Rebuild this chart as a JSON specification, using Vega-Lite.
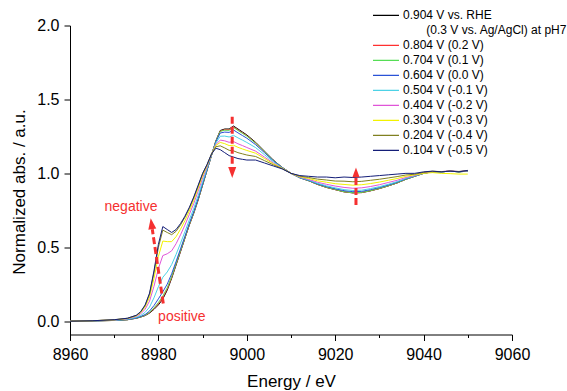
{
  "$schema": "https://vega.github.io/schema/vega-lite/v6.json",
  "width": 442,
  "height": 309,
  "autosize": {"type": "none"},
  "padding": {"left": 70, "top": 25.5, "right": 55, "bottom": 56.5},
  "config": {
    "view": {"stroke": null},
    "font": "Liberation Sans",
    "axis": {
      "grid": false,
      "domainColor": "#000000",
      "tickColor": "#000000",
      "labelColor": "#000000",
      "titleColor": "#000000",
      "labelFont": "Liberation Sans",
      "titleFont": "Liberation Sans",
      "labelFontSize": 16,
      "titleFontSize": 17,
      "titleFontWeight": "normal",
      "labelFlush": false,
      "labelOverlap": false
    }
  },
  "datasets": {
    "xas": [
      {"E": 8960, "a": 0, "b": 0, "c": 0, "d": 0, "e": 0, "f": 0, "g": 0, "h": 0, "i": 0},
      {"E": 8965, "a": 0.002, "b": 0.002, "c": 0.002, "d": 0.002, "e": 0.002, "f": 0.003, "g": 0.003, "h": 0.003, "i": 0.003},
      {"E": 8970, "a": 0.005, "b": 0.005, "c": 0.005, "d": 0.006, "e": 0.007, "f": 0.008, "g": 0.009, "h": 0.010, "i": 0.010},
      {"E": 8973, "a": 0.010, "b": 0.010, "c": 0.010, "d": 0.011, "e": 0.013, "f": 0.016, "g": 0.018, "h": 0.020, "i": 0.020},
      {"E": 8975, "a": 0.020, "b": 0.020, "c": 0.021, "d": 0.022, "e": 0.026, "f": 0.032, "g": 0.036, "h": 0.039, "i": 0.040},
      {"E": 8976, "a": 0.028, "b": 0.029, "c": 0.029, "d": 0.032, "e": 0.039, "f": 0.050, "g": 0.058, "h": 0.063, "i": 0.065},
      {"E": 8977, "a": 0.038, "b": 0.039, "c": 0.041, "d": 0.045, "e": 0.060, "f": 0.081, "g": 0.096, "h": 0.106, "i": 0.110},
      {"E": 8978, "a": 0.055, "b": 0.058, "c": 0.060, "d": 0.069, "e": 0.096, "f": 0.136, "g": 0.163, "h": 0.183, "i": 0.190},
      {"E": 8979, "a": 0.080, "b": 0.085, "c": 0.090, "d": 0.106, "e": 0.158, "f": 0.236, "g": 0.288, "h": 0.327, "i": 0.340},
      {"E": 8980, "a": 0.110, "b": 0.118, "c": 0.126, "d": 0.151, "e": 0.233, "f": 0.356, "g": 0.438, "h": 0.500, "i": 0.520},
      {"E": 8981, "a": 0.150, "b": 0.160, "c": 0.170, "d": 0.199, "e": 0.297, "f": 0.444, "g": 0.542, "h": 0.616, "i": 0.640},
      {"E": 8982, "a": 0.210, "b": 0.218, "c": 0.226, "d": 0.251, "e": 0.333, "f": 0.456, "g": 0.538, "h": 0.600, "i": 0.620},
      {"E": 8983, "a": 0.290, "b": 0.296, "c": 0.302, "d": 0.321, "e": 0.383, "f": 0.476, "g": 0.538, "h": 0.585, "i": 0.600},
      {"E": 8984, "a": 0.380, "b": 0.385, "c": 0.390, "d": 0.404, "e": 0.452, "f": 0.524, "g": 0.572, "h": 0.608, "i": 0.620},
      {"E": 8985, "a": 0.470, "b": 0.474, "c": 0.478, "d": 0.489, "e": 0.527, "f": 0.584, "g": 0.622, "h": 0.651, "i": 0.660},
      {"E": 8986, "a": 0.560, "b": 0.563, "c": 0.566, "d": 0.575, "e": 0.605, "f": 0.650, "g": 0.680, "h": 0.703, "i": 0.710},
      {"E": 8987, "a": 0.650, "b": 0.652, "c": 0.655, "d": 0.662, "e": 0.686, "f": 0.722, "g": 0.746, "h": 0.764, "i": 0.770},
      {"E": 8988, "a": 0.730, "b": 0.732, "c": 0.734, "d": 0.741, "e": 0.763, "f": 0.796, "g": 0.818, "h": 0.835, "i": 0.840},
      {"E": 8989, "a": 0.820, "b": 0.822, "c": 0.824, "d": 0.830, "e": 0.850, "f": 0.880, "g": 0.900, "h": 0.915, "i": 0.920},
      {"E": 8990, "a": 0.920, "b": 0.922, "c": 0.923, "d": 0.928, "e": 0.944, "f": 0.968, "g": 0.984, "h": 0.996, "i": 1.000},
      {"E": 8991, "a": 1.020, "b": 1.021, "c": 1.022, "d": 1.024, "e": 1.032, "f": 1.044, "g": 1.052, "h": 1.058, "i": 1.060},
      {"E": 8992, "a": 1.120, "b": 1.120, "c": 1.120, "d": 1.121, "e": 1.123, "f": 1.126, "g": 1.128, "h": 1.130, "i": 1.130},
      {"E": 8993, "a": 1.220, "b": 1.219, "c": 1.218, "d": 1.214, "e": 1.205, "f": 1.195, "g": 1.189, "h": 1.180, "i": 1.170},
      {"E": 8994, "a": 1.290, "b": 1.286, "c": 1.284, "d": 1.273, "e": 1.251, "f": 1.225, "g": 1.209, "h": 1.186, "i": 1.160},
      {"E": 8995, "a": 1.300, "b": 1.295, "c": 1.292, "d": 1.279, "e": 1.252, "f": 1.220, "g": 1.201, "h": 1.172, "i": 1.140},
      {"E": 8996, "a": 1.300, "b": 1.295, "c": 1.291, "d": 1.277, "e": 1.246, "f": 1.210, "g": 1.188, "h": 1.156, "i": 1.120},
      {"E": 8997, "a": 1.320, "b": 1.314, "c": 1.310, "d": 1.293, "e": 1.257, "f": 1.215, "g": 1.190, "h": 1.152, "i": 1.110},
      {"E": 8998, "a": 1.300, "b": 1.294, "c": 1.290, "d": 1.274, "e": 1.240, "f": 1.200, "g": 1.176, "h": 1.140, "i": 1.100},
      {"E": 8999, "a": 1.280, "b": 1.274, "c": 1.271, "d": 1.256, "e": 1.225, "f": 1.188, "g": 1.165, "h": 1.132, "i": 1.095},
      {"E": 9000, "a": 1.260, "b": 1.255, "c": 1.252, "d": 1.238, "e": 1.209, "f": 1.175, "g": 1.155, "h": 1.124, "i": 1.090},
      {"E": 9002, "a": 1.210, "b": 1.206, "c": 1.204, "d": 1.194, "e": 1.174, "f": 1.150, "g": 1.136, "h": 1.114, "i": 1.090},
      {"E": 9004, "a": 1.150, "b": 1.148, "c": 1.146, "d": 1.140, "e": 1.126, "f": 1.110, "g": 1.100, "h": 1.086, "i": 1.070},
      {"E": 9006, "a": 1.090, "b": 1.089, "c": 1.088, "d": 1.085, "e": 1.078, "f": 1.070, "g": 1.065, "h": 1.058, "i": 1.050},
      {"E": 9008, "a": 1.040, "b": 1.040, "c": 1.040, "d": 1.039, "e": 1.037, "f": 1.035, "g": 1.034, "h": 1.032, "i": 1.030},
      {"E": 9010, "a": 1.000, "b": 1.000, "c": 1.000, "d": 1.000, "e": 1.000, "f": 1.000, "g": 1.000, "h": 1.000, "i": 1.000},
      {"E": 9012, "a": 0.970, "b": 0.970, "c": 0.970, "d": 0.971, "e": 0.972, "f": 0.975, "g": 0.978, "h": 0.981, "i": 0.985},
      {"E": 9014, "a": 0.950, "b": 0.950, "c": 0.950, "d": 0.952, "e": 0.955, "f": 0.959, "g": 0.965, "h": 0.972, "i": 0.980},
      {"E": 9016, "a": 0.925, "b": 0.925, "c": 0.926, "d": 0.929, "e": 0.933, "f": 0.940, "g": 0.950, "h": 0.961, "i": 0.975},
      {"E": 9018, "a": 0.905, "b": 0.905, "c": 0.906, "d": 0.911, "e": 0.916, "f": 0.926, "g": 0.940, "h": 0.955, "i": 0.975},
      {"E": 9020, "a": 0.890, "b": 0.890, "c": 0.891, "d": 0.896, "e": 0.902, "f": 0.914, "g": 0.930, "h": 0.948, "i": 0.970},
      {"E": 9022, "a": 0.875, "b": 0.875, "c": 0.876, "d": 0.883, "e": 0.890, "f": 0.905, "g": 0.925, "h": 0.947, "i": 0.975},
      {"E": 9024, "a": 0.868, "b": 0.868, "c": 0.869, "d": 0.876, "e": 0.884, "f": 0.899, "g": 0.920, "h": 0.943, "i": 0.972},
      {"E": 9026, "a": 0.870, "b": 0.870, "c": 0.871, "d": 0.878, "e": 0.886, "f": 0.902, "g": 0.923, "h": 0.946, "i": 0.975},
      {"E": 9028, "a": 0.882, "b": 0.882, "c": 0.883, "d": 0.890, "e": 0.897, "f": 0.911, "g": 0.931, "h": 0.953, "i": 0.980},
      {"E": 9030, "a": 0.897, "b": 0.897, "c": 0.898, "d": 0.904, "e": 0.910, "f": 0.923, "g": 0.941, "h": 0.960, "i": 0.985},
      {"E": 9032, "a": 0.915, "b": 0.915, "c": 0.916, "d": 0.921, "e": 0.926, "f": 0.938, "g": 0.953, "h": 0.969, "i": 0.990},
      {"E": 9034, "a": 0.935, "b": 0.935, "c": 0.936, "d": 0.940, "e": 0.944, "f": 0.953, "g": 0.965, "h": 0.978, "i": 0.995},
      {"E": 9036, "a": 0.960, "b": 0.960, "c": 0.960, "d": 0.963, "e": 0.966, "f": 0.972, "g": 0.980, "h": 0.989, "i": 1.000},
      {"E": 9038, "a": 0.980, "b": 0.980, "c": 0.980, "d": 0.982, "e": 0.983, "f": 0.986, "g": 0.990, "h": 0.994, "i": 1.000},
      {"E": 9040, "a": 1.000, "b": 1.000, "c": 1.000, "d": 1.001, "e": 1.002, "f": 1.003, "g": 1.000, "h": 1.007, "i": 1.010},
      {"E": 9042, "a": 1.010, "b": 1.010, "c": 1.011, "d": 1.010, "e": 1.012, "f": 1.012, "g": 1.005, "h": 1.014, "i": 1.015},
      {"E": 9044, "a": 1.010, "b": 1.010, "c": 1.010, "d": 1.011, "e": 1.010, "f": 1.012, "g": 1.000, "h": 1.012, "i": 1.010},
      {"E": 9046, "a": 1.015, "b": 1.015, "c": 1.015, "d": 1.014, "e": 1.015, "f": 1.016, "g": 0.998, "h": 1.015, "i": 1.015},
      {"E": 9048, "a": 1.010, "b": 1.011, "c": 1.010, "d": 1.012, "e": 1.011, "f": 1.012, "g": 0.995, "h": 1.013, "i": 1.010},
      {"E": 9050, "a": 1.015, "b": 1.016, "c": 1.015, "d": 1.016, "e": 1.017, "f": 1.018, "g": 0.995, "h": 1.018, "i": 1.020}
    ],
    "names": [
      {"k": "a", "series": "0.904 V vs. RHE"},
      {"k": "b", "series": "0.804 V (0.2 V)"},
      {"k": "c", "series": "0.704 V (0.1 V)"},
      {"k": "d", "series": "0.604 V (0.0 V)"},
      {"k": "e", "series": "0.504 V (-0.1 V)"},
      {"k": "f", "series": "0.404 V (-0.2 V)"},
      {"k": "g", "series": "0.304 V (-0.3 V)"},
      {"k": "h", "series": "0.204 V (-0.4 V)"},
      {"k": "i", "series": "0.104 V (-0.5 V)"}
    ],
    "arrows": [
      {"id": "peak", "E": 8996.7, "A": 1.383, "E2": 8996.7, "A2": 1.045},
      {"id": "post", "E": 9024.7, "A": 0.786, "E2": 9024.7, "A2": 0.977},
      {"id": "edge", "E": 8981.1, "A": 0.120, "E2": 8978.62, "A2": 0.622}
    ],
    "heads": [
      {"id": "peak", "E": 8996.7, "A": 1.005},
      {"id": "post", "E": 9024.7, "A": 1.007},
      {"id": "edge", "E": 8978.44, "A": 0.659}
    ],
    "notes": [
      {"label": "negative", "E": 8973.8, "A": 0.774},
      {"label": "positive", "E": 8985.3, "A": 0.030}
    ]
  },
  "layer": [
    {
      "data": {"name": "xas"},
      "transform": [
        {"fold": ["a", "b", "c", "d", "e", "f", "g", "h", "i"], "as": ["k", "A"]},
        {"lookup": "k", "from": {"data": {"name": "names"}, "key": "k", "fields": ["series"]}}
      ],
      "mark": {"type": "line", "strokeWidth": 1, "clip": true},
      "encoding": {
        "x": {
          "field": "E", "type": "quantitative",
          "scale": {"domain": [8960, 9060], "nice": false, "zero": false},
          "axis": {
            "title": "Energy / eV",
            "values": [8960, 8970, 8980, 8990, 9000, 9010, 9020, 9030, 9040, 9050, 9060],
            "format": "d",
            "labelExpr": "datum.value % 20 === 0 ? datum.label : ''",
            "tickSize": {"condition": {"test": "datum.value % 20 !== 0", "value": 3}, "value": 6},
            "labelPadding": 6,
            "titleY": 47,
            "titleBaseline": "middle"
          }
        },
        "y": {
          "field": "A", "type": "quantitative",
          "scale": {"domain": [-0.09, 2.0], "nice": false, "zero": false},
          "axis": {
            "title": "Normalized abs. / a.u.",
            "values": [0, 0.25, 0.5, 0.75, 1, 1.25, 1.5, 1.75, 2],
            "format": ".1f",
            "labelExpr": "datum.value % 0.5 === 0 ? datum.label : ''",
            "tickSize": {"condition": {"test": "datum.value % 0.5 !== 0", "value": 3}, "value": 6},
            "labelPadding": 5,
            "titleX": -51,
            "titleY": 166,
            "titleBaseline": "middle"
          }
        },
        "color": {
          "field": "series", "type": "nominal",
          "scale": {
            "domain": ["0.904 V vs. RHE", "\u200b\u00a0\u00a0\u00a0\u00a0\u00a0\u00a0\u00a0(0.3 V vs. Ag/AgCl) at pH7", "0.804 V (0.2 V)", "0.704 V (0.1 V)", "0.604 V (0.0 V)", "0.504 V (-0.1 V)", "0.404 V (-0.2 V)", "0.304 V (-0.3 V)", "0.204 V (-0.4 V)", "0.104 V (-0.5 V)"],
            "range": ["#000000", "transparent", "#ff3030", "#55dd55", "#2a52d6", "#4dd2e6", "#e055d8", "#f2f200", "#808020", "#141e78"]
          },
          "legend": {
            "orient": "none",
            "legendX": 302,
            "legendY": -16.5,
            "title": null,
            "symbolType": "stroke",
            "symbolSize": 676,
            "symbolStrokeWidth": 1.3,
            "labelFontSize": 12,
            "labelFont": "Liberation Sans",
            "labelColor": "#000000",
            "labelOffset": 3,
            "labelLimit": 300,
            "clipHeight": 12.7,
            "rowPadding": 2
          }
        }
      }
    },
    {
      "data": {"name": "arrows"},
      "mark": {"type": "rule", "color": "#f53030", "strokeWidth": 3, "strokeDash": [7, 3]},
      "encoding": {
        "x": {"field": "E", "type": "quantitative"},
        "y": {"field": "A", "type": "quantitative"},
        "x2": {"field": "E2"},
        "y2": {"field": "A2"}
      }
    },
    {
      "data": {"name": "heads"},
      "transform": [{"filter": "datum.id === 'peak'"}],
      "mark": {"type": "point", "shape": "M0,1.1L-0.8,-1.1L0.8,-1.1Z", "size": 100, "filled": true, "color": "#f53030", "opacity": 1},
      "encoding": {
        "x": {"field": "E", "type": "quantitative"},
        "y": {"field": "A", "type": "quantitative"}
      }
    },
    {
      "data": {"name": "heads"},
      "transform": [{"filter": "datum.id === 'post'"}],
      "mark": {"type": "point", "shape": "M0,-1.1L-0.8,1.1L0.8,1.1Z", "size": 80, "filled": true, "color": "#f53030", "opacity": 1},
      "encoding": {
        "x": {"field": "E", "type": "quantitative"},
        "y": {"field": "A", "type": "quantitative"}
      }
    },
    {
      "data": {"name": "heads"},
      "transform": [{"filter": "datum.id === 'edge'"}],
      "mark": {"type": "point", "shape": "M0,-1.1L-0.8,1.1L0.8,1.1Z", "size": 100, "angle": 351.6, "filled": true, "color": "#f53030", "opacity": 1},
      "encoding": {
        "x": {"field": "E", "type": "quantitative"},
        "y": {"field": "A", "type": "quantitative"}
      }
    },
    {
      "data": {"name": "notes"},
      "mark": {"type": "text", "color": "#f53030", "fontSize": 14, "font": "Liberation Sans", "align": "center", "baseline": "middle"},
      "encoding": {
        "x": {"field": "E", "type": "quantitative"},
        "y": {"field": "A", "type": "quantitative"},
        "text": {"field": "label"}
      }
    }
  ]
}
